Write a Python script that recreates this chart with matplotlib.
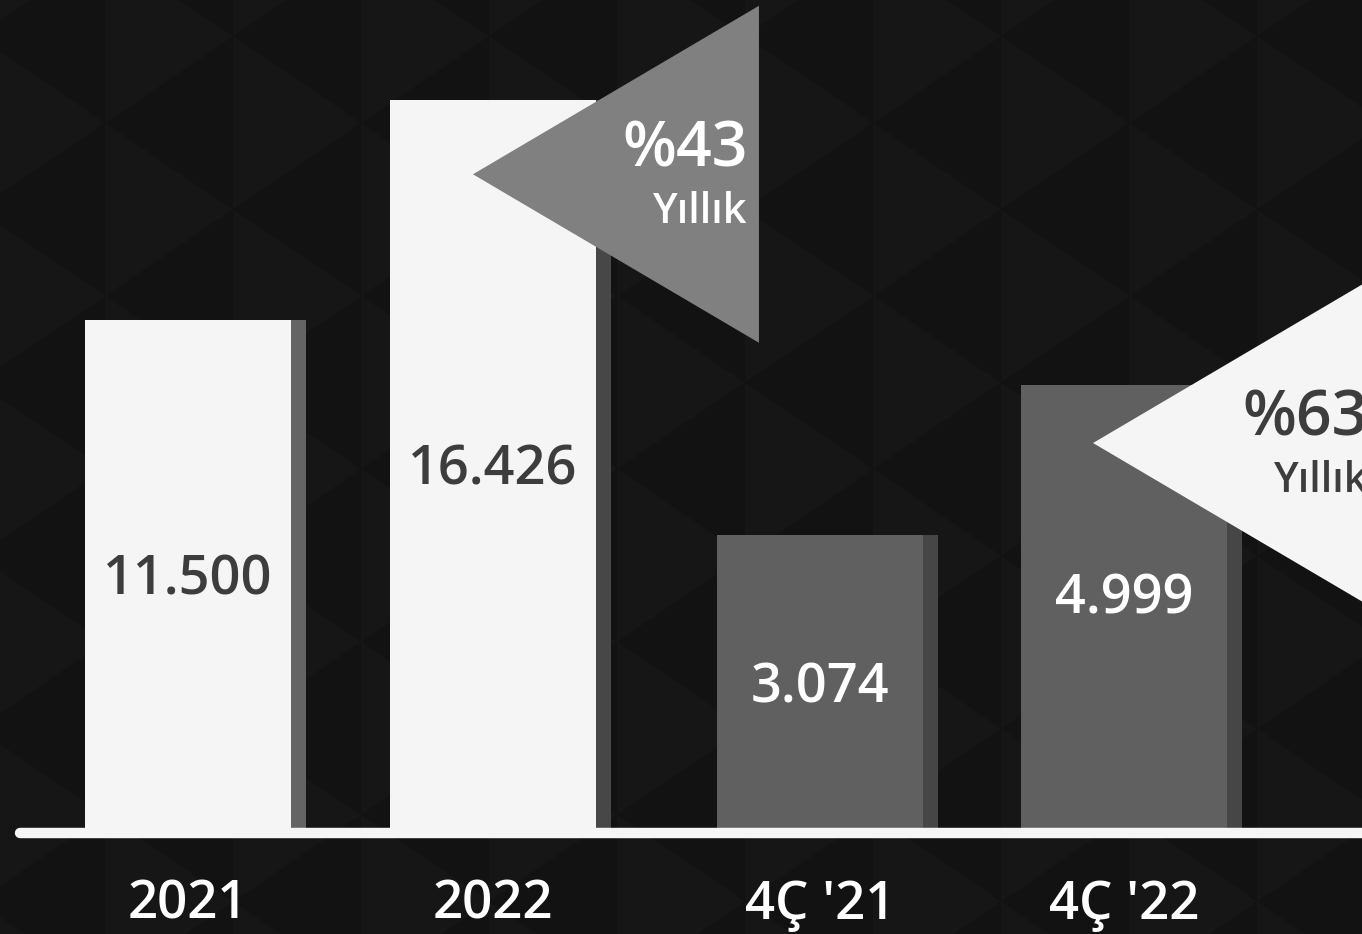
import matplotlib
matplotlib.use("Agg")
import matplotlib.pyplot as plt
from matplotlib.patches import Polygon
import matplotlib.transforms as mtransforms

# data
categories = ["2021", "2022", "4Ç '21", "4Ç '22"]
annual_vals = [11500, 16426]
quarter_vals = [3074, 4999]
value_labels = ["11.500", "16.426", "3.074", "4.999"]
growth_labels = ["%43", "%63"]

W, H = 1362, 934
fig = plt.figure(figsize=(W / 100, H / 100), dpi=100)
fig.patch.set_facecolor("#121212")

# background triangle texture
bg = fig.add_axes([0, 0, 1, 1], zorder=-10)
bg.set_xlim(0, W)
bg.set_ylim(H, 0)
bg.axis("off")
bg.add_patch(plt.Rectangle((0, 0), W, H, color="#121212"))
cw, ch = 128, 173
for k in range(-1, 12):
    x0 = 105 + cw * k
    yL0 = 123 if k % 2 == 0 else 123 + ch / 2
    for m in range(-2, 7):
        yL = yL0 + ch * m
        bg.add_patch(Polygon([(x0, yL), (x0, yL + ch), (x0 + cw, yL + ch / 2)],
                             closed=True, color="#161616", lw=0))

# main axes (baseline at the white line)
base_px = 833
ax = fig.add_axes([0, (H - base_px) / H, 1, base_px / H])
ax.patch.set_alpha(0)
ax2 = ax.twinx()
ax2.patch.set_alpha(0)
for a in (ax, ax2):
    a.set_axis_off()

x = [0, 1, 2.072, 3.069]
bw = 0.675
sw = 0.05
ax.set_xlim(-0.6164, 3.849)
ax.set_ylim(0, 18674)
q_floor = -750
ax2.set_ylim(q_floor, 9940)

# annual bars
ax.bar([x[0] + bw / 2, x[1] + bw / 2], annual_vals, width=sw, align="edge",
       color=["#646464", "#474747"], zorder=2)
ax.bar(x[:2], annual_vals, width=bw, color="#f5f5f5", zorder=3)
# quarterly bars (own scale)
qv = [v - q_floor for v in quarter_vals]
ax2.bar([x[2] + bw / 2, x[3] + bw / 2], qv, bottom=q_floor, width=sw, align="edge",
        color="#464646", zorder=2)
ax2.bar(x[2:], qv, bottom=q_floor, width=bw, color="#606060", zorder=3)

fnt = "Open Sans"
off = mtransforms.offset_copy
for i, v in enumerate(annual_vals):
    ax.text(x[i], v / 2, value_labels[i], ha="center", va="center", fontsize=39,
            fontweight="semibold", color="#3d3d3d", family=fnt, zorder=4,
            transform=off(ax.transData, fig=fig, y=-4, units="dots"))
for j, v in enumerate(quarter_vals):
    ax2.text(x[2 + j], (v + q_floor) / 2, value_labels[2 + j], ha="center", va="center",
             fontsize=39, fontweight="semibold", color="white", family=fnt, zorder=4,
             transform=off(ax2.transData, fig=fig, y=[-4, 10][j], units="dots"))

# baseline (on the top axes so it covers all bars)
ax2.axhline(q_floor, xmin=0.0147, xmax=1.0, color="#f5f5f5", lw=7.5,
            solid_capstyle="round", clip_on=False, zorder=5)

# category labels
tr = mtransforms.blended_transform_factory(ax.transData, ax.transAxes)
for xi, c in zip(x, categories):
    ax.text(xi, -72 / base_px, c, transform=tr, ha="center", va="center", fontsize=38,
            fontweight="semibold", color="white", family=fnt)

# callout triangles anchored to top-right corners of the 2022 / 4Ç '22 bars
to_fig = fig.transFigure.inverted()
callouts = [
    (ax, x[1] + bw / 2, annual_vals[1], (-123, -74), growth_labels[0], "#808080", "white"),
    (ax2, x[3] + bw / 2, quarter_vals[1], (-134, -58), growth_labels[1], "#f5f5f5", "#3d3d3d"),
]
tw, th = 286, 337
for a, bx, by, (dx, dy), lab, fc, tc in callouts:
    px, py = a.transData.transform((bx, by))
    tipx, tipy = px + dx, py + dy
    pts = [(tipx, tipy), (tipx + tw, tipy + th / 2), (tipx + tw, tipy - th / 2)]
    pts = [to_fig.transform(p) for p in pts]
    fig.patches.append(Polygon(pts, closed=True, color=fc, lw=0, zorder=6,
                               transform=fig.transFigure, figure=fig))
    rx, _ = to_fig.transform((tipx + tw - 11, 0))
    _, y1 = to_fig.transform((0, tipy + 24))
    _, y2 = to_fig.transform((0, tipy - 38))
    fig.text(rx, y1, lab, ha="right", va="center", fontsize=45, fontweight="semibold",
             color=tc, family=fnt, zorder=7)
    fig.text(rx, y2, "Yıllık", ha="right", va="center", fontsize=30, fontweight="semibold",
             color=tc, family=fnt, zorder=7)

fig.savefig("out.png", dpi=100, facecolor=fig.get_facecolor())
